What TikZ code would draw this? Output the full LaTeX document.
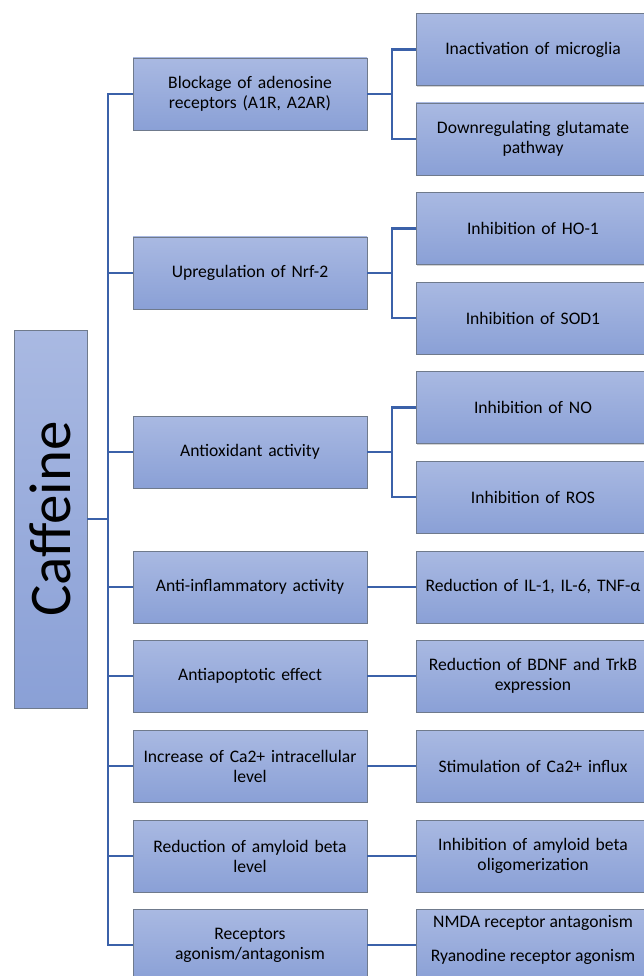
\documentclass[tikz,border=0pt]{standalone}
\usepackage{fontspec}
\setmainfont{Carlito}
\usetikzlibrary{shadows}
\definecolor{boxtop}{HTML}{A9B9E2}
\definecolor{boxbot}{HTML}{8AA0D6}
\definecolor{boxline}{HTML}{6F7A8C}
\definecolor{conn}{HTML}{3B61A9}
\tikzset{
  box/.style={draw=boxline, line width=0.9pt, top color=boxtop, bottom color=boxbot,
    align=center, inner sep=2pt, font=\fontsize{17.6}{20}\selectfont,
    drop shadow={opacity=0.35, shadow xshift=1.2pt, shadow yshift=-1.2pt}},
  mid/.style={box, minimum width=234pt, minimum height=72pt, text width=228pt},
  rbox/.style={box, minimum width=234pt, minimum height=72pt, text width=230pt},
  plain/.style={align=center, inner sep=0pt, font=\fontsize{17.6}{20}\selectfont},
  link/.style={draw=conn, line width=2.7pt}
}
\begin{document}
\begin{tikzpicture}[x=1pt,y=-1pt]
\useasboundingbox (0,0) rectangle (644,976);
\clip (0,0) rectangle (644,976);
% Caffeine
\node[box, minimum width=73pt, minimum height=378pt] (caf) at (50.5,519) {};
\node[rotate=90, font=\fontsize{59}{62}\selectfont] (caft) at (caf.center) {Caffeine};
% middle boxes
\node[mid] (m1) at (250,94) {Blockage of adenosine\\receptors (A1R, A2AR)};
\node[mid] (m2) at (250,273) {Upregulation of Nrf-2};
\node[mid] (m3) at (250,452) {Antioxidant activity};
\node[mid] (m4) at (250,587) {Anti-inflammatory activity};
\node[mid] (m5) at (250,676) {Antiapoptotic effect};
\node[mid] (m6) at (250,766) {Increase of Ca2+ intracellular\\level};
\node[mid] (m7) at (250,856) {Reduction of amyloid beta\\level};
\node[mid] (m8) at (250,945) {Receptors\\agonism/antagonism};
% right boxes
\node[rbox] (r1) at (533,49.5) {Inactivation of microglia};
\node[rbox] (r2) at (533,139) {Downregulating glutamate\\pathway};
\node[rbox] (r3) at (533,228.5) {Inhibition of HO-1};
\node[rbox] (r4) at (533,318) {Inhibition of SOD1};
\node[rbox] (r5) at (533,407.5) {Inhibition of NO};
\node[rbox] (r6) at (533,497) {Inhibition of ROS};
\node[rbox] (r7) at (533,587) {Reduction of IL-1, IL-6, TNF-α};
\node[rbox] (r8) at (533,676) {Reduction of BDNF and TrkB\\expression};
\node[rbox] (r9) at (533,766) {Stimulation of Ca2+ influx};
\node[rbox] (r10) at (533,856) {Inhibition of amyloid beta\\oligomerization};
\node[rbox] (r11) at (533,945) {};
\node[plain] (r11a) at (533,923) {NMDA receptor antagonism};
\node[plain] (r11b) at (533,957) {Ryanodine receptor agonism};
% trunk
\coordinate (tk) at (108,519);
\draw[link] (caf.east) -- (tk);
\draw[link] (m1.west) -| (tk |- m8.west) -- (m8.west);
\foreach \i in {2,...,7} { \draw[link] (tk |- m\i.west) -- (m\i.west); }
% branches
\coordinate (j1) at (392,94);
\coordinate (j2) at (392,273);
\coordinate (j3) at (392,452);
\draw[link] (m1.east) -- (j1);
\draw[link] (r1.west) -| (j1) |- (r2.west);
\draw[link] (m2.east) -- (j2);
\draw[link] (r3.west) -| (j2) |- (r4.west);
\draw[link] (m3.east) -- (j3);
\draw[link] (r5.west) -| (j3) |- (r6.west);
\draw[link] (m4.east) -- (r7.west);
\draw[link] (m5.east) -- (r8.west);
\draw[link] (m6.east) -- (r9.west);
\draw[link] (m7.east) -- (r10.west);
\draw[link] (m8.east) -- (r11.west);
\end{tikzpicture}
\end{document}
